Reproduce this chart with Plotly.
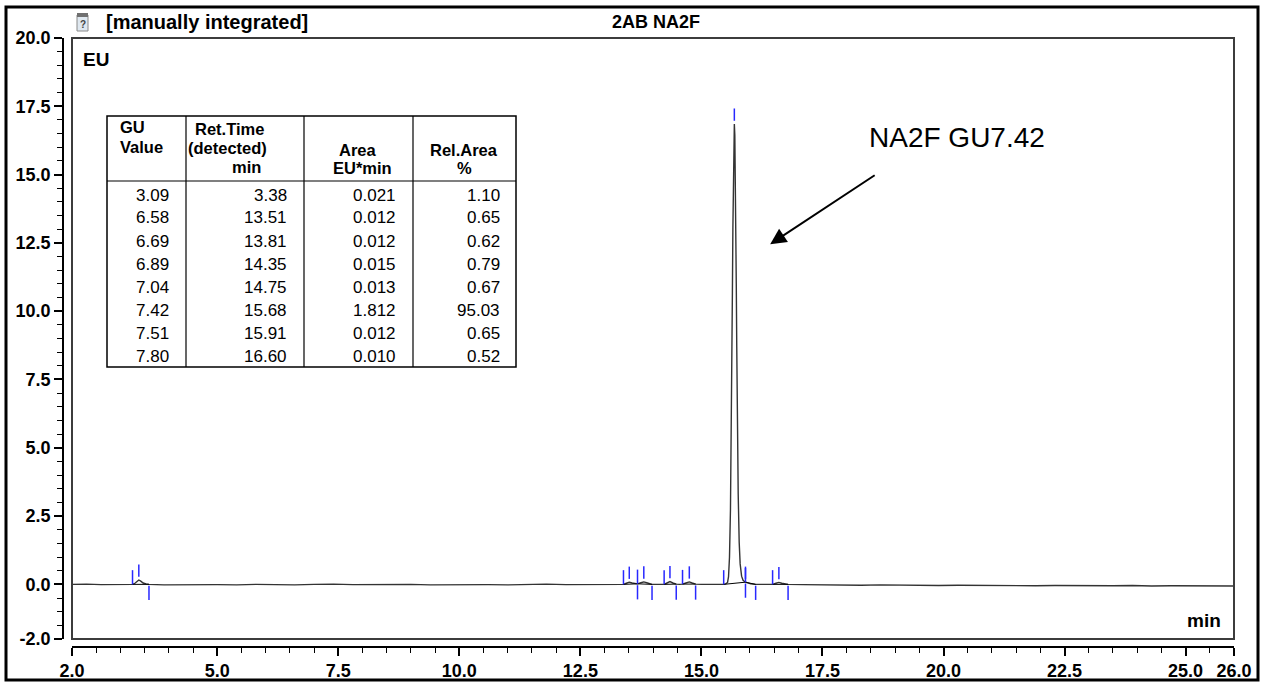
import numpy as np
import plotly.graph_objects as go

# ---------------- data ----------------
time_min = [2.0, 2.3, 2.6, 2.9, 3.2,
            3.25, 3.30, 3.34, 3.38, 3.42, 3.47, 3.53, 3.59,
            3.9, 4.2, 4.6, 5.0, 5.4, 5.8, 6.2, 6.6, 7.0, 7.4, 7.8, 8.2, 8.6, 9.0, 9.4, 9.8,
            10.2, 10.6, 11.0, 11.4, 11.8, 12.2, 12.6, 13.0, 13.39,
            13.45, 13.51, 13.57, 13.63, 13.68, 13.75, 13.81, 13.87, 13.93, 13.98,
            14.1, 14.23, 14.29, 14.35, 14.41, 14.48, 14.55, 14.61, 14.68, 14.75, 14.81, 14.88,
            15.0, 15.2, 15.35, 15.46, 15.50, 15.54, 15.56, 15.58, 15.60, 15.61, 15.62, 15.63,
            15.64, 15.65, 15.66, 15.67, 15.68, 15.69, 15.70, 15.71, 15.72, 15.73, 15.74, 15.75,
            15.76, 15.78, 15.80, 15.83, 15.86, 15.91, 15.96, 16.02, 16.12, 16.3,
            16.47, 16.54, 16.60, 16.66, 16.72, 16.79,
            17.1, 17.5, 17.9, 18.3, 18.7, 19.1, 19.5, 19.9, 20.3, 20.7, 21.1, 21.5, 21.9,
            22.3, 22.7, 23.1, 23.5, 23.9, 24.3, 24.7, 25.1, 25.5, 26.0]
signal_eu = [0.0, 0.01, -0.01, 0.0, 0.0,
             0.0, 0.04, 0.11, 0.16, 0.12, 0.05, 0.02, 0.0,
             -0.02, -0.01, -0.02, -0.01, -0.02, 0.0, -0.01, -0.02, 0.0, 0.01, -0.01, 0.0, -0.01, 0.0, -0.02, -0.01,
             0.0, -0.01, -0.02, 0.0, 0.01, -0.01, 0.0, -0.01, 0.0,
             0.04, 0.08, 0.05, 0.02, 0.02, 0.06, 0.09, 0.06, 0.02, 0.0,
             0.0, 0.0, 0.05, 0.10, 0.05, 0.01, 0.0, 0.01, 0.05, 0.09, 0.05, 0.01,
             0.0, -0.01, 0.0, 0.0, 0.02, 0.07, 0.28, 1.0, 2.75, 4.2, 6.1, 8.3,
             10.7, 13.05, 15.05, 16.4, 16.85, 16.45, 15.2, 13.3, 11.0, 8.7, 6.5, 4.7,
             3.3, 1.55, 0.75, 0.3, 0.15, 0.08, 0.05, 0.02, 0.0, -0.01,
             0.0, 0.04, 0.07, 0.04, 0.01, 0.0,
             -0.01, -0.02, -0.01, -0.03, -0.02, -0.03, -0.02, -0.04, -0.03, -0.04, -0.03, -0.04, -0.05,
             -0.04, -0.05, -0.04, -0.05, -0.04, -0.06, -0.05, -0.06, -0.05, -0.06]

# peak table
gu_value = ["3.09", "6.58", "6.69", "6.89", "7.04", "7.42", "7.51", "7.80"]
ret_time = ["3.38", "13.51", "13.81", "14.35", "14.75", "15.68", "15.91", "16.60"]
area = ["0.021", "0.012", "0.012", "0.015", "0.013", "1.812", "0.012", "0.010"]
rel_area = ["1.10", "0.65", "0.62", "0.79", "0.67", "95.03", "0.65", "0.52"]
peak_start = [3.25, 13.39, 13.68, 14.23, 14.61, 15.46, 15.91, 16.47]
peak_end = [3.59, 13.68, 13.98, 14.48, 14.88, 15.91, 16.12, 16.79]

x_tickvals = [2.0, 5.0, 7.5, 10.0, 12.5, 15.0, 17.5, 20.0, 22.5, 25.0, 26.0]
x_ticktext = ["2.0", "5.0", "7.5", "10.0", "12.5", "15.0", "17.5", "20.0", "22.5", "25.0", "26.0"]
y_tickvals = [-2.0, 0.0, 2.5, 5.0, 7.5, 10.0, 12.5, 15.0, 17.5, 20.0]
y_ticktext = ["-2.0", "0.0", "2.5", "5.0", "7.5", "10.0", "12.5", "15.0", "17.5", "20.0"]

title_left = "[manually integrated]"
title_center = "2AB NA2F"
peak_label = "NA2F GU7.42"

# ---------------- layout helpers ----------------
W, H = 1264, 683
ML, MR, MT, MB = 63, 30, 38, 36
PW, PH = W - ML - MR, H - MT - MB


def px(x):
    return (x - ML) / PW


def py(y):
    return (H - MB - y) / PH


FONT = "Arial, Liberation Sans, sans-serif"
BLUE = "#2828ff"

fig = go.Figure()
fig.add_trace(go.Scatter(x=time_min, y=signal_eu, mode="lines",
                         line=dict(color="#333333", width=1.4), showlegend=False,
                         hoverinfo="skip"))

shapes = []
# integration baselines and peak markers
for s, e, rt in zip(peak_start, peak_end, ret_time):
    t = float(rt)
    ys = float(np.interp(s, time_min, signal_eu))
    ye = float(np.interp(e, time_min, signal_eu))
    h = float(np.interp(t, time_min, signal_eu))
    shapes.append(dict(type="line", xref="x", yref="y", x0=s, x1=e, y0=ys, y1=ye,
                       line=dict(color="black", width=1)))
    shapes.append(dict(type="line", xref="x", yref="y", x0=s, x1=s, y0=ys, y1=ys + 0.52,
                       line=dict(color=BLUE, width=1.5)))
    shapes.append(dict(type="line", xref="x", yref="y", x0=e, x1=e, y0=ye - 0.05, y1=ye - 0.57,
                       line=dict(color=BLUE, width=1.5)))
    shapes.append(dict(type="line", xref="x", yref="y", x0=t, x1=t, y0=h + 0.12, y1=h + 0.57,
                       line=dict(color=BLUE, width=1.5)))

# plot frame
shapes.append(dict(type="rect", xref="paper", yref="paper", x0=px(72), x1=px(1234),
                   y0=py(639), y1=py(38), line=dict(color="#3c3c3c", width=2)))
# outer border
shapes.append(dict(type="rect", xref="paper", yref="paper", x0=px(6), x1=px(1258),
                   y0=py(680), y1=py(7), line=dict(color="black", width=3)))
# icon
shapes.append(dict(type="rect", xref="paper", yref="paper", x0=px(77), x1=px(88),
                   y0=py(31), y1=py(15), line=dict(color="#8a8a8a", width=1),
                   fillcolor="#dfe8f0"))
shapes.append(dict(type="rect", xref="paper", yref="paper", x0=px(77), x1=px(88),
                   y0=py(17), y1=py(13), line=dict(width=0), fillcolor="#707070"))

# table
tl, tr, tt, tb = 107, 516, 116, 367
col_edges = [107, 186, 304, 413, 516]
shapes.append(dict(type="rect", xref="paper", yref="paper", x0=px(tl), x1=px(tr),
                   y0=py(tb), y1=py(tt), line=dict(color="black", width=1.5)))
for cx in col_edges[1:-1]:
    shapes.append(dict(type="line", xref="paper", yref="paper", x0=px(cx), x1=px(cx),
                       y0=py(tb), y1=py(tt), line=dict(color="black", width=1.2)))
shapes.append(dict(type="line", xref="paper", yref="paper", x0=px(tl), x1=px(tr),
                   y0=py(181), y1=py(181), line=dict(color="black", width=1.2)))

annotations = []


def txt(text, x, y, size, bold=False, xanchor="center", yanchor="middle", color="black"):
    annotations.append(dict(text=text, xref="paper", yref="paper", x=px(x), y=py(y),
                            xanchor=xanchor, yanchor=yanchor, showarrow=False,
                            font=dict(family=FONT, size=size, color=color,
                                      weight=700 if bold else 400)))


txt("?", 82.5, 24, 10, bold=True, color="#444")
txt(title_left, 104, 22, 20, bold=True, xanchor="left")
txt(title_center, 656, 22, 18, bold=True)
txt("EU", 81, 60, 19, bold=True, xanchor="left")
txt("min", 1223, 620, 19, bold=True, xanchor="right")
txt(peak_label, 957, 137, 28)

# table header
HS = 16.5
txt("GU", 118, 127, HS, True, "left")
txt("Value", 118, 147, HS, True, "left")
txt("Ret.Time", 229, 129, HS, True)
txt("(detected)", 227, 148, HS, True)
txt("min", 246, 167, HS, True)
txt("Area", 358, 150, HS, True)
txt("EU*min", 362, 168, HS, True)
txt("Rel.Area", 464, 150, HS, True)
txt("%", 464, 168, HS, True)
data_right = [171, 289, 398, 502]
for i, row in enumerate(zip(gu_value, ret_time, area, rel_area)):
    yy = 195 + 23 * i
    for v, xr in zip(row, data_right):
        txt(v, xr, yy, 17, False, "right")

# arrow
annotations.append(dict(x=16.42, y=12.45, xref="x", yref="y", ax=106, ay=-70,
                        axref="pixel", ayref="pixel", showarrow=True, arrowhead=2,
                        arrowsize=1.6, arrowwidth=2, arrowcolor="black", text=""))

tickfont = dict(family=FONT, size=18, color="black", weight=700)
fig.update_layout(
    template="none",
    width=W, height=H, autosize=False,
    margin=dict(l=ML, r=MR, t=MT, b=MB, pad=0, autoexpand=False),
    paper_bgcolor="white", plot_bgcolor="white",
    shapes=shapes, annotations=annotations, showlegend=False,
    xaxis=dict(range=[2, 26], domain=[px(72), 1.0], anchor="free", position=0,
               automargin=False,
               tickmode="array", tickvals=x_tickvals, ticktext=x_ticktext,
               ticks="outside", ticklen=8, tickwidth=1.5, tickcolor="black",
               showline=True, linecolor="black", linewidth=1.5, showgrid=False,
               zeroline=False, tickfont=tickfont,
               minor=dict(tickmode="array", tickvals=list(np.arange(2.0, 26.01, 0.5)),
                          ticks="outside", ticklen=5, tickwidth=1.2, tickcolor="black",
                          showgrid=False)),
    yaxis=dict(range=[-2, 20], domain=[py(639), 1.0], anchor="free", position=0,
               automargin=False,
               tickmode="array", tickvals=y_tickvals, ticktext=y_ticktext,
               ticks="outside", ticklen=8, tickwidth=1.5, tickcolor="black",
               showline=True, linecolor="black", linewidth=1.5, showgrid=False,
               zeroline=False, tickfont=tickfont,
               minor=dict(tickmode="array", tickvals=list(np.arange(-2.0, 20.01, 0.5)),
                          ticks="outside", ticklen=5, tickwidth=1.2, tickcolor="black",
                          showgrid=False)),
)

fig.write_html("out.html", config={"displayModeBar": False},
               post_script="document.body.style.margin='0';document.body.style.padding='0';")
